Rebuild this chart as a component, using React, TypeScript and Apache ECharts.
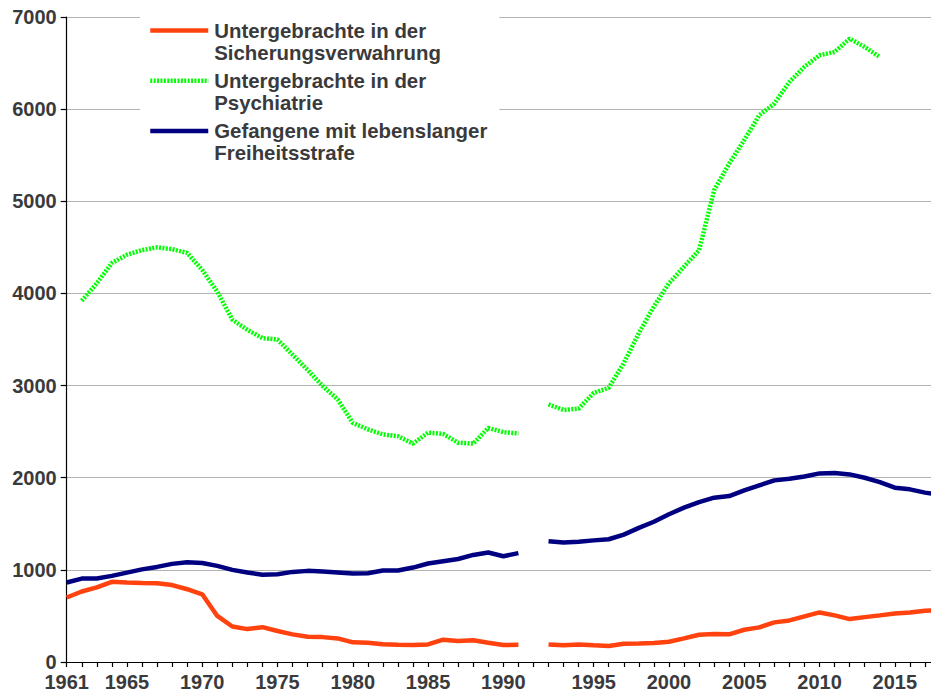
import React, { useEffect, useRef } from "react";
import * as echarts from "echarts";

const categories: string[] = [
  "1961", "1962", "1963", "1964", "1965", "1966", "1967", "1968", "1969", "1970",
  "1971", "1972", "1973", "1974", "1975", "1976", "1977", "1978", "1979", "1980",
  "1981", "1982", "1983", "1984", "1985", "1986", "1987", "1988", "1989", "1990",
  "1991", "", "1992", "1993", "1994", "1995", "1996", "1997", "1998", "1999",
  "2000", "2001", "2002", "2003", "2004", "2005", "2006", "2007", "2008", "2009",
  "2010", "2011", "2012", "2013", "2014", "2015", "2016", "2017", "2018",
];

const shownYearLabels: string[] = [
  "1961", "1965", "1970", "1975", "1980", "1985", "1990", "1995", "2000", "2005", "2010", "2015",
];

const sicherungsverwahrung: (number | null)[] = [
  700, 765, 810, 870, 863, 858, 855, 835, 790, 735,
  500, 385, 357, 378, 336, 300, 275, 270, 256, 213,
  209, 192, 188, 185, 191, 242, 227, 235, 209, 184,
  188, null, 191, 181, 191, 181, 173, 199, 202, 206,
  220, 256, 296, 303, 300, 350, 376, 430, 451, 495,
  538, 506, 466, 487, 506, 527, 538, 556, 565,
];

const psychiatrie: (number | null)[] = [
  null, 3920, 4110, 4330, 4420, 4470, 4500, 4480, 4440, 4255,
  4020, 3715, 3605, 3515, 3500, 3335, 3170, 2995, 2850, 2595,
  2525, 2470, 2450, 2370, 2490, 2475, 2380, 2370, 2540, 2495,
  2480, null, 2795, 2735, 2750, 2920, 2975, 3245, 3570, 3860,
  4110, 4290, 4470, 5120, 5410, 5665, 5935, 6060, 6295, 6460,
  6585, 6620, 6765, 6675, 6565, null, null, null, null,
];

const lebenslang: (number | null)[] = [
  863, 905, 906, 935, 970, 1005, 1032, 1065, 1083, 1075,
  1043, 1000, 971, 946, 953, 978, 989, 982, 971, 960,
  964, 993, 993, 1025, 1069, 1094, 1118, 1162, 1188, 1148,
  1182, null, 1310, 1296, 1305, 1320, 1332, 1383, 1455, 1522,
  1603, 1675, 1736, 1783, 1801, 1863, 1917, 1971, 1989, 2014,
  2047, 2050, 2036, 2000, 1953, 1892, 1874, 1838, 1815,
];

const seriesNames: string[] = [
  "Untergebrachte in der\nSicherungsverwahrung",
  "Untergebrachte in der\nPsychiatrie",
  "Gefangene mit lebenslanger\nFreiheitsstrafe",
];

const TEXT_COLOR = "#3a3a3c";
const FONT = "'Liberation Sans', Arial, sans-serif";

export default function App() {
  const ref = useRef<HTMLDivElement>(null);

  useEffect(() => {
    if (!ref.current) return;
    const chart = echarts.init(ref.current, undefined, { renderer: "svg" });
    chart.setOption({
      animation: false,
      backgroundColor: "#ffffff",
      textStyle: { fontFamily: FONT },
      grid: { left: 66.7, right: 20, top: 17, bottom: 29, containLabel: false },
      legend: {
        orient: "vertical",
        left: 140,
        top: -3,
        padding: [0, 12, 6, 8],
        itemGap: -17,
        itemWidth: 58,
        itemHeight: 14,
        backgroundColor: "#ffffff",
        selectedMode: false,
        itemStyle: { opacity: 0 },
        lineStyle: { width: 4.5 },
        formatter: (name: string) => "\n" + name,
        textStyle: {
          color: TEXT_COLOR,
          fontFamily: FONT,
          fontWeight: "bold",
          fontSize: 20.4,
          lineHeight: 22.4,
          padding: [0, 0, 0, 1],
        },
        data: seriesNames,
      },
      xAxis: {
        type: "category",
        boundaryGap: false,
        data: categories,
        axisLine: { show: true, lineStyle: { color: "#000000", width: 1.2 } },
        axisTick: { show: true, interval: 0, length: 5, lineStyle: { color: "#000000", width: 1.2 } },
        axisLabel: {
          interval: (_index: number, value: string) => shownYearLabels.indexOf(value) >= 0,
          color: TEXT_COLOR,
          fontFamily: FONT,
          fontWeight: "bold",
          fontSize: 20,
          margin: 10,
        },
        splitLine: { show: false },
      },
      yAxis: {
        type: "value",
        min: 0,
        max: 7000,
        interval: 1000,
        axisLine: { show: true, lineStyle: { color: "#000000", width: 1.2 } },
        axisTick: { show: true, length: 6, lineStyle: { color: "#000000", width: 1.2 } },
        axisLabel: {
          formatter: (v: number) => String(v),
          color: TEXT_COLOR,
          fontFamily: FONT,
          fontWeight: "bold",
          fontSize: 20,
          margin: 10,
        },
        splitLine: { show: true, lineStyle: { color: "#b3b3b3", width: 1.2 } },
      },
      series: [
        {
          name: seriesNames[0],
          type: "line",
          data: sicherungsverwahrung,
          symbol: "none",
          connectNulls: false,
          lineStyle: { color: "#ff420e", width: 4.5 },
          itemStyle: { color: "#ff420e" },
        },
        {
          name: seriesNames[1],
          type: "line",
          data: psychiatrie,
          symbol: "none",
          connectNulls: false,
          lineStyle: { color: "#00ff00", width: 4.5, type: [2, 1.4] },
          itemStyle: { color: "#00ff00" },
        },
        {
          name: seriesNames[2],
          type: "line",
          data: lebenslang,
          symbol: "none",
          connectNulls: false,
          lineStyle: { color: "#000080", width: 4.5 },
          itemStyle: { color: "#000080" },
        },
      ],
    });
    return () => chart.dispose();
  }, []);

  return (
    <div style={{ position: "absolute", left: 0, top: 0, width: 931, height: 692, overflow: "hidden", background: "#fff" }}>
      <div ref={ref} style={{ width: 960, height: 692 }} />
    </div>
  );
}
